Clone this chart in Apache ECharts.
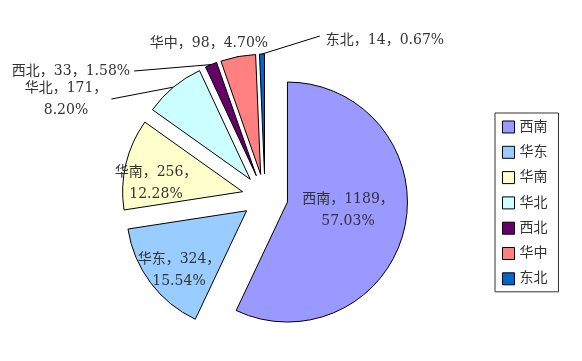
<!DOCTYPE html>
<html><head><meta charset="utf-8">
<script src="https://cdn.jsdelivr.net/npm/echarts@6/dist/echarts.min.js"></script>
<style>html,body{margin:0;padding:0;background:#fff}#c{width:582px;height:361px}</style>
</head><body><div id="c"></div>
<script>
const categories = ['西南', '华东', '华南', '华北', '西北', '华中', '东北'];
const values = [1189, 324, 256, 171, 33, 98, 14];
const colors = ['#9999FF', '#99CCFF', '#FFFFCC', '#CCFFFF', '#660066', '#FF8080', '#0066CC'];
const wrapLabel = [true, true, true, true, false, false, false];
const insideLabel = [true, true, true, false, false, false, false];
const showLeader = [false, false, false, true, true, false, true];

// layout (px)
const CX = 265, CY = 197, R = 120, OFF = 23;
const labelPos = [[348, 210], [179, 270], [156, 183], [66, 99], [71, 71], [209, 43], [385, 40]];

const FONT = '"DejaVu Serif", "Noto Sans CJK SC", serif';
const total = values.reduce((a, b) => a + b, 0);
function midAngle(i) {
  let before = 0;
  for (let k = 0; k < i; k++) before += values[k];
  return (before + values[i] / 2) / total * 2 * Math.PI;
}
function arcMid(i) {
  const a = midAngle(i);
  return [CX + (R + OFF) * Math.sin(a), CY - (R + OFF) * Math.cos(a)];
}

const series = categories.map((name, k) => {
  const a = midAngle(k);
  return {
    type: 'pie',
    name: name,
    center: [CX + OFF * Math.sin(a), CY - OFF * Math.cos(a)],
    radius: R,
    startAngle: 90, clockwise: true,
    silent: true,
    avoidLabelOverlap: false,
    emphasis: { disabled: true },
    label: {
      show: false, fontSize: 14, lineHeight: 22, color: '#333', fontFamily: FONT,
      overflow: 'none', align: 'center',
      formatter: p => p.name + '，' + p.value + '，' + (wrapLabel[p.dataIndex] ? '\n' : '') + p.percent.toFixed(2) + '%'
    },
    labelLine: { show: false, length: 5, length2: 5, lineStyle: { color: '#000', width: 1 } },
    labelLayout: function (p) {
      const i = p.dataIndex;
      if (i !== k) return {};
      const pos = labelPos[i];
      const out = { x: pos[0], y: pos[1], align: 'center', verticalAlign: 'middle' };
      if (showLeader[i]) {
        const m = arcMid(i);
        const w = p.labelRect.width;
        const right = m[0] > pos[0];
        const pt = right ? [pos[0] + w / 2 + 4, pos[1]] : [pos[0] - w / 2 - 6, pos[1] - 4];
        out.labelLinePoints = [m, pt, pt];
      }
      return out;
    },
    data: categories.map((n, i) => ({
      name: n, value: values[i],
      itemStyle: i === k
        ? { color: colors[i], borderColor: '#000', borderWidth: 1 }
        : { color: 'rgba(0,0,0,0)', borderWidth: 0 },
      label: { show: i === k, position: insideLabel[i] ? 'inside' : 'outside' },
      labelLine: { show: i === k && showLeader[i] }
    }))
  };
});

const chart = echarts.init(document.getElementById('c'), null, { renderer: 'canvas' });
chart.setOption({
  animation: false,
  backgroundColor: '#fff',
  legend: {
    orient: 'vertical', left: 495, top: 113,
    padding: [7, 11, 6, 7], itemGap: 11.3, itemWidth: 12, itemHeight: 12,
    borderColor: '#333', borderWidth: 1, icon: 'rect', selectedMode: false,
    textStyle: { fontSize: 14, color: '#333', fontFamily: FONT },
    data: categories.map((n, i) => ({ name: n, itemStyle: { color: colors[i], borderColor: '#000', borderWidth: 1 } }))
  },
  series: series
});
</script></body></html>
